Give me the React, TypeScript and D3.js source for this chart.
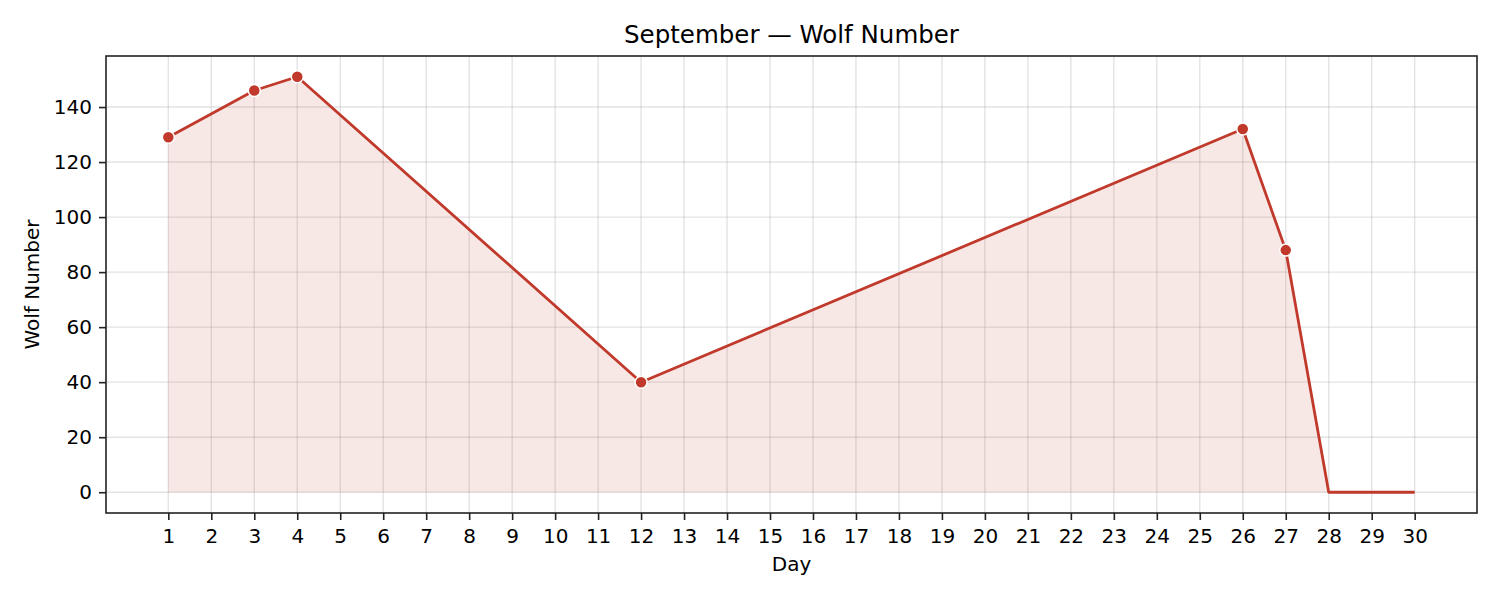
import React, { useEffect, useRef } from 'react';
import * as d3 from 'd3';

// days with observations and their Wolf numbers
const days = [1, 3, 4, 12, 26, 27, 28, 29, 30];
const wolf = [129, 146, 151, 40, 132, 88, 0, 0, 0];
// days that get a marker
const markedDays = [1, 3, 4, 12, 26, 27];
const yTicks = [0, 20, 40, 60, 80, 100, 120, 140];
const xTicks = d3.range(1, 31);

const App: React.FC = () => {
    const ref = useRef<SVGSVGElement>(null);

    useEffect(() => {
        const svg = d3.select(ref.current);
        svg.selectAll('*').remove();

        const width = 1500;
        const height = 600;
        const marginTop = 56;
        const marginRight = 23;
        const marginBottom = 87;
        const marginLeft = 106;
        const color = '#c0392b';
        const font = 'DejaVu Sans, sans-serif';
        const labelSize = 20;

        const data = days.map((d, i) => ({ day: d, value: wolf[i] }));

        const x = d3.scaleLinear()
            .domain([1 - 29 * 0.05, 30 + 29 * 0.05])
            .range([marginLeft, width - marginRight]);

        const y = d3.scaleLinear()
            .domain([0 - 151 * 0.05, 151 + 151 * 0.05])
            .range([height - marginBottom, marginTop]);

        // grid
        const grid = svg.append('g')
            .attr('stroke', '#b0b0b0')
            .attr('stroke-opacity', 0.35)
            .attr('stroke-width', 1.4);
        grid.selectAll('.vx')
            .data(xTicks)
            .join('line')
            .attr('x1', d => x(d)).attr('x2', d => x(d))
            .attr('y1', marginTop).attr('y2', height - marginBottom);
        grid.selectAll('.hy')
            .data(yTicks)
            .join('line')
            .attr('y1', d => y(d)).attr('y2', d => y(d))
            .attr('x1', marginLeft).attr('x2', width - marginRight);

        // area
        const area = d3.area<{ day: number; value: number }>()
            .x(d => x(d.day))
            .y0(y(0))
            .y1(d => y(d.value));
        svg.append('path')
            .datum(data)
            .attr('d', area)
            .attr('fill', color)
            .attr('fill-opacity', 0.12);

        // line
        const line = d3.line<{ day: number; value: number }>()
            .x(d => x(d.day))
            .y(d => y(d.value));
        svg.append('path')
            .datum(data)
            .attr('d', line)
            .attr('fill', 'none')
            .attr('stroke', color)
            .attr('stroke-width', 2.8)
            .attr('stroke-linejoin', 'round');

        // markers
        svg.append('g')
            .selectAll('circle')
            .data(data.filter(d => markedDays.includes(d.day)))
            .join('circle')
            .attr('cx', d => x(d.day))
            .attr('cy', d => y(d.value))
            .attr('r', 6)
            .attr('fill', color)
            .attr('stroke', 'white')
            .attr('stroke-width', 1.5);

        // axes
        const xAxis = svg.append('g')
            .attr('transform', `translate(0,${height - marginBottom})`)
            .call(d3.axisBottom(x).tickValues(xTicks).tickFormat(d3.format('d')).tickSize(7).tickPadding(7));
        xAxis.select('.domain').remove();
        xAxis.selectAll('.tick text').attr('dy', '0.78em');

        const yAxis = svg.append('g')
            .attr('transform', `translate(${marginLeft},0)`)
            .call(d3.axisLeft(y).tickValues(yTicks).tickFormat(d3.format('d')).tickSize(7).tickPadding(7));
        yAxis.select('.domain').remove();

        svg.selectAll('.tick text')
            .attr('font-family', font)
            .attr('font-size', labelSize)
            .attr('fill', '#000');
        svg.selectAll('.tick line').attr('stroke', '#222').attr('stroke-width', 1.6);

        // frame
        svg.append('rect')
            .attr('x', marginLeft)
            .attr('y', marginTop)
            .attr('width', width - marginLeft - marginRight)
            .attr('height', height - marginTop - marginBottom)
            .attr('fill', 'none')
            .attr('stroke', '#222')
            .attr('stroke-width', 1.6);

        // labels
        svg.append('text')
            .attr('x', (marginLeft + width - marginRight) / 2)
            .attr('y', 43)
            .attr('text-anchor', 'middle')
            .attr('font-family', font)
            .attr('font-size', 24.5)
            .text('September — Wolf Number');

        svg.append('text')
            .attr('x', (marginLeft + width - marginRight) / 2)
            .attr('y', 571)
            .attr('text-anchor', 'middle')
            .attr('font-family', font)
            .attr('font-size', labelSize)
            .text('Day');

        svg.append('text')
            .attr('transform', `translate(39,${(marginTop + height - marginBottom) / 2}) rotate(-90)`)
            .attr('text-anchor', 'middle')
            .attr('font-family', font)
            .attr('font-size', labelSize)
            .text('Wolf Number');
    }, []);

    return (
        <svg ref={ref} width={1500} height={600} style={{ position: 'absolute', left: 0, top: 0 }} />
    );
};

export default App;
